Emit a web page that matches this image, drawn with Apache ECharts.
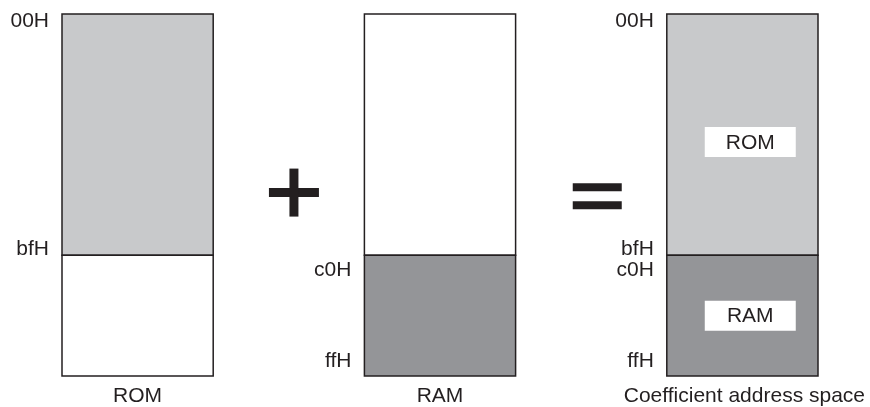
<!DOCTYPE html>
<html>
<head>
<meta charset="utf-8">
<script src="https://cdn.jsdelivr.net/npm/echarts@6/dist/echarts.min.js"></script>
<style>html,body{margin:0;padding:0;background:#fff}#c{width:870px;height:407px}</style>
</head>
<body>
<div id="c"></div>
<script>
// ---- data (diagram units: x = column index, y = 0 top .. 3 bottom) ----
const columnNames = ['ROM', 'RAM', 'Coefficient address space'];
const regionColumn = [0, 0, 1, 1, 2, 2];
const regionTop    = [0, 2, 0, 2, 0, 2];
const regionBottom = [2, 3, 2, 3, 2, 3];
const regionKind   = ['rom', 'empty', 'empty', 'ram', 'rom', 'ram'];
const regionTag    = ['', '', '', '', 'ROM', 'RAM'];
const regionTagPos = [0, 0, 0, 0, 1.06, 2.5];
const addrColumn = [0, 0, 1, 1, 2, 2, 2, 2];
const addrPos    = [0.05, 1.94, 2.117, 2.871, 0.05, 1.94, 2.117, 2.871];
const addrText   = ['00H', 'bfH', 'c0H', 'ffH', '00H', 'bfH', 'c0H', 'ffH'];
const opPos    = [0.767, 1.77];
const opLevel  = [1.48, 1.51];
const opSymbol = ['+', '='];

const colWidth = 0.5;
const fills = { rom: '#c8c9cb', ram: '#949598', empty: '#ffffff' };
const ink = '#231f20';
const font = '"Liberation Sans", Arial, sans-serif';

const chart = echarts.init(document.getElementById('c'), null, { renderer: 'canvas' });

const regionData = regionColumn.map((c, i) => [c, regionTop[i], regionBottom[i], i]);
const addrData = addrColumn.map((c, i) => [c, addrPos[i], i]);
const colData = columnNames.map((n, i) => [i, 3, i]);
const opData = opPos.map((x, i) => [x, opLevel[i], i]);

chart.setOption({
  animation: false,
  backgroundColor: '#fff',
  grid: { left: 62, right: 52, top: 14, bottom: 31 },
  xAxis: { type: 'value', min: 0, max: 2.5, show: false },
  yAxis: { type: 'value', min: 0, max: 3, inverse: true, show: false },
  series: [
    {
      type: 'custom',
      data: regionData,
      renderItem: (params, api) => {
        const i = api.value(3);
        const c = api.value(0);
        const p0 = api.coord([c, api.value(1)]);
        const p1 = api.coord([c + colWidth, api.value(2)]);
        const children = [{
          type: 'rect',
          shape: { x: p0[0], y: p0[1], width: p1[0] - p0[0], height: p1[1] - p0[1] },
          style: { fill: fills[regionKind[i]], stroke: ink, lineWidth: 1.5 }
        }];
        if (regionTag[i]) {
          const t = api.coord([c + 0.276, regionTagPos[i]]);
          children.push({
            type: 'rect',
            shape: { x: t[0] - 45.5, y: t[1] - 15, width: 91, height: 30 },
            style: { fill: '#fff' }
          });
          children.push({
            type: 'text',
            x: t[0], y: t[1] + 1,
            style: { text: regionTag[i], fill: ink, font: '21px ' + font, align: 'center', verticalAlign: 'middle' }
          });
        }
        return { type: 'group', children };
      }
    },
    {
      type: 'custom',
      data: addrData,
      renderItem: (params, api) => {
        const i = api.value(2);
        const p = api.coord([api.value(0), api.value(1)]);
        return {
          type: 'text',
          x: p[0] - 13, y: p[1] + 1,
          style: { text: addrText[i], fill: ink, font: '21px ' + font, align: 'right', verticalAlign: 'middle' }
        };
      }
    },
    {
      type: 'custom',
      data: colData,
      renderItem: (params, api) => {
        const i = api.value(2);
        const p = api.coord([api.value(0) + colWidth / 2, api.value(1)]);
        return {
          type: 'text',
          x: p[0] + (i === 2 ? 2 : 0), y: p[1] + 20,
          style: { text: columnNames[i], fill: ink, font: '21px ' + font, align: 'center', verticalAlign: 'middle' }
        };
      }
    },
    {
      type: 'custom',
      data: opData,
      renderItem: (params, api) => {
        const i = api.value(2);
        const p = api.coord([api.value(0), api.value(1)]);
        let children;
        if (opSymbol[i] === '+') {
          children = [
            { type: 'rect', shape: { x: p[0] - 25, y: p[1] - 4.5, width: 50, height: 9 }, style: { fill: ink } },
            { type: 'rect', shape: { x: p[0] - 4.5, y: p[1] - 24, width: 9, height: 48 }, style: { fill: ink } }
          ];
        } else {
          children = [
            { type: 'rect', shape: { x: p[0] - 24.5, y: p[1] - 13, width: 49, height: 8 }, style: { fill: ink } },
            { type: 'rect', shape: { x: p[0] - 24.5, y: p[1] + 5, width: 49, height: 8 }, style: { fill: ink } }
          ];
        }
        return { type: 'group', children };
      }
    }
  ]
});
</script>
</body>
</html>
